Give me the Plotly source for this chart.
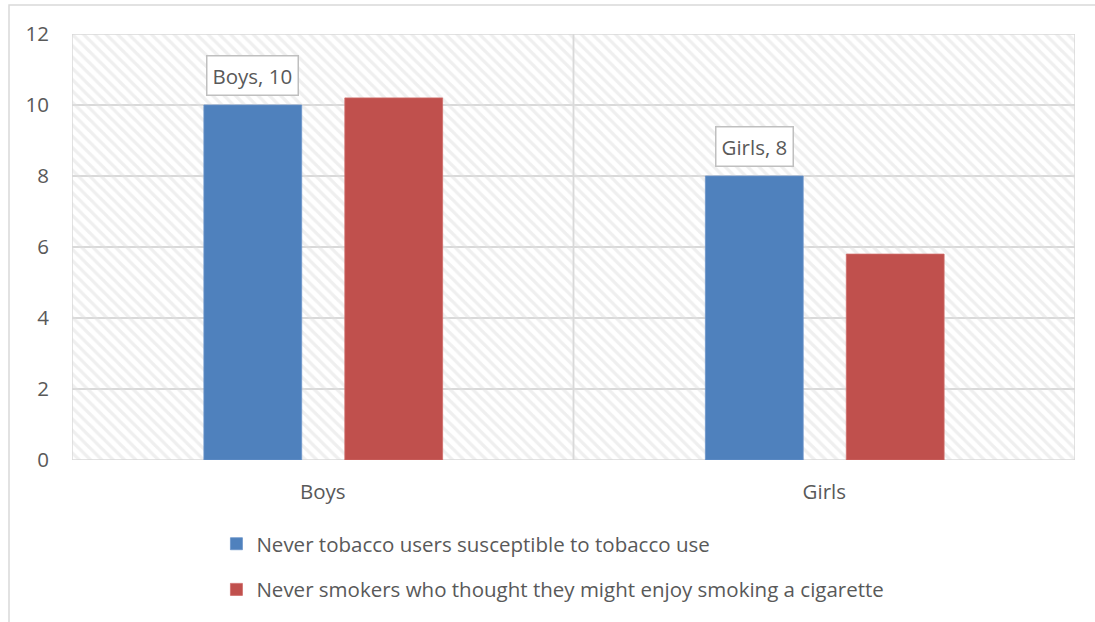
import plotly.graph_objects as go

# Share of students by sex (%)
categories = ["Boys", "Girls"]
susceptible = [10, 8]
might_enjoy = [10.2, 5.8]
series_names = [
    "Never tobacco users susceptible to tobacco use",
    "Never smokers who thought they might enjoy smoking a cigarette",
]
y_ticks = [0, 2, 4, 6, 8, 10, 12]

BLUE = "#4F81BD"
RED = "#C0504D"
GRID = "#d9d9d9"
TEXT = "#595959"
FONT = "Open Sans, sans-serif"
FS = 20.5

BAR_W = 0.195
BLUE_OFF = -0.237
RED_OFF = 0.044

fig = go.Figure()

# hatched plot-area background, one full-width cell per category
fig.add_trace(go.Bar(
    x=categories, y=[y_ticks[-1]] * len(categories), width=1,
    marker=dict(color="rgba(0,0,0,0)",
                line=dict(color=GRID, width=1.5),
                pattern=dict(shape="\\", size=8, solidity=0.4,
                             fgcolor="#e0e0e0", bgcolor="rgba(0,0,0,0)")),
    hoverinfo="skip", showlegend=False,
))

fig.add_trace(go.Bar(
    x=categories, y=susceptible, name=series_names[0],
    width=BAR_W, offset=BLUE_OFF, legendgroup="a",
    marker=dict(color=BLUE, line=dict(color="#6a93c9", width=0.8)),
))
fig.add_trace(go.Bar(
    x=categories, y=might_enjoy, name=series_names[1],
    width=BAR_W, offset=RED_OFF, legendgroup="b",
    marker=dict(color=RED, line=dict(color="#cf6b68", width=0.8)),
))

# boxed value labels above the first series
for i, (cat, val) in enumerate(zip(categories, susceptible)):
    fig.add_annotation(
        x=i + BLUE_OFF + BAR_W / 2, y=val, xref="x", yref="y",
        text=f"{cat}, {val}", showarrow=False,
        yanchor="bottom", yshift=9,
        font=dict(family=FONT, size=FS, color=TEXT),
        bgcolor="white", bordercolor="#bfbfbf", borderwidth=1.5, borderpad=5,
    )

# outer chart frame
fig.add_shape(type="rect", xref="paper", yref="paper",
              x0=-0.0628, x1=1.2, y0=-0.6, y1=1.068,
              line=dict(color=GRID, width=1.5), layer="below")

fig.update_layout(
    width=1095, height=622,
    margin=dict(l=72, r=20, t=34, b=162),
    barmode="overlay",
    paper_bgcolor="white", plot_bgcolor="white",
    font=dict(family=FONT, size=FS, color=TEXT),
    legend=dict(orientation="v", x=0.144, xanchor="left",
                y=-0.15, yanchor="top", tracegroupgap=16,
                font=dict(family=FONT, size=FS, color=TEXT)),
    xaxis=dict(range=[-0.5, 1.5], showgrid=False, zeroline=False,
               ticks="outside", ticklen=13, tickcolor="rgba(0,0,0,0)",
               tickfont=dict(family=FONT, size=FS, color=TEXT)),
    yaxis=dict(range=[0, 12], tickvals=y_ticks, showgrid=True,
               gridcolor=GRID, gridwidth=1.5, zeroline=False,
               ticks="outside", ticklen=18, tickcolor="rgba(0,0,0,0)",
               tickfont=dict(family=FONT, size=FS, color=TEXT)),
)

fig.write_html("out.html")
